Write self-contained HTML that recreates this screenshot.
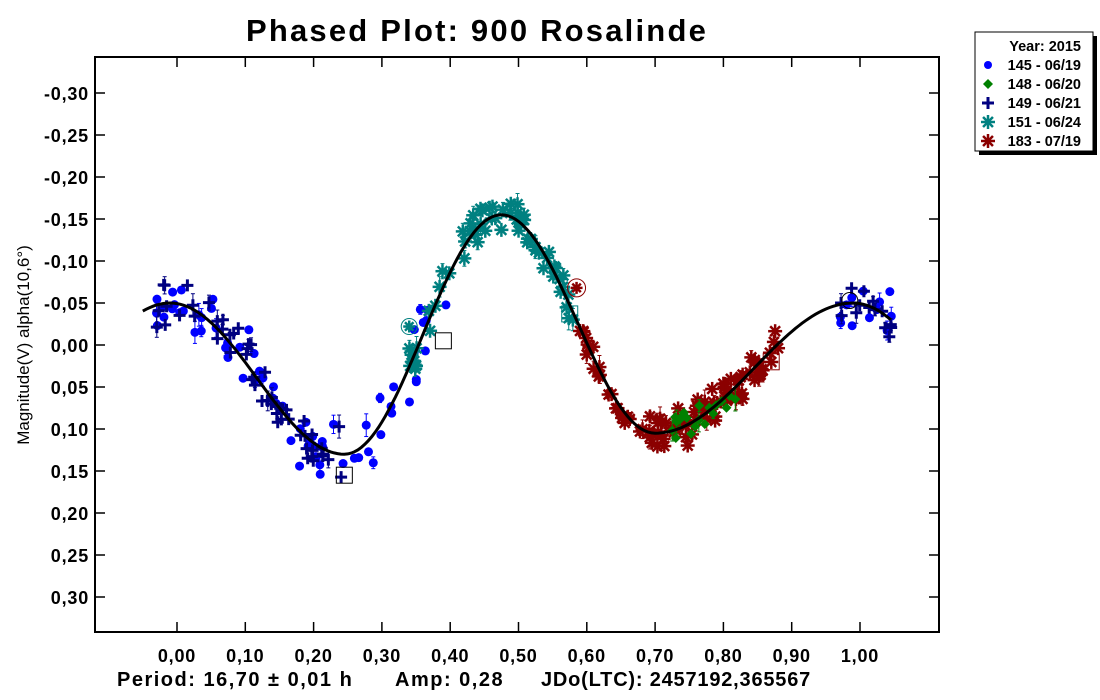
<!DOCTYPE html>
<html><head><meta charset="utf-8">
<style>
body{margin:0;background:#fff;}
svg{display:block;font-family:"Liberation Sans",Arial,sans-serif;font-weight:bold;}
</style></head>
<body>
<svg id="s" width="1100" height="700" xmlns="http://www.w3.org/2000/svg">
<rect width="1100" height="700" fill="#fff"/>
<text x="477" y="41" font-size="31" text-anchor="middle" letter-spacing="2.2">Phased Plot: 900 Rosalinde</text>
<rect x="95" y="57" width="844" height="575" fill="none" stroke="#000" stroke-width="2"/>
<g id="ax" font-size="18" letter-spacing="0.8"></g>
<text transform="translate(29,345) rotate(-90)" font-size="17" text-anchor="middle" style="font-weight:normal">Magnitude(V) alpha(10,6°)</text>
<g font-size="20" letter-spacing="1.5">
<text x="117" y="686">Period: 16,70 ± 0,01 h</text>
<text x="395" y="686">Amp: 0,28</text>
<text x="541" y="686" letter-spacing="0.8">JDo(LTC): 2457192,365567</text>
</g>
<g id="pts"></g>
<path id="curve" fill="none" stroke="#000" stroke-width="3"/>
<g font-size="14.5">
<rect x="979" y="36" width="118" height="119" fill="#000"/>
<rect x="975" y="32" width="118" height="119" fill="#fff" stroke="#000"/>
<text x="1081" y="51" text-anchor="end">Year: 2015</text>
<circle cx="988" cy="65" r="4" fill="#0000ff"/><text x="1081" y="70" text-anchor="end">145 - 06/19</text>
<path d="M988 79 l5 5 -5 5 -5 -5z" fill="#008000"/><text x="1081" y="89" text-anchor="end">148 - 06/20</text>
<path d="M988 97v12M982 103h12" stroke="#000080" stroke-width="3"/><text x="1081" y="108" text-anchor="end">149 - 06/21</text>
<g id="lg1"></g><text x="1081" y="127" text-anchor="end">151 - 06/24</text>
<g id="lg2"></g><text x="1081" y="146" text-anchor="end">183 - 07/19</text>
</g>
</svg>
<script>
const NS="http://www.w3.org/2000/svg";
function el(p,t,a){const e=document.createElementNS(NS,t);for(const k in a)e.setAttribute(k,a[k]);p.appendChild(e);return e;}
const X=p=>177+p*683, Y=m=>345+m*840;
const ax=document.getElementById('ax');
const fmt=v=>(v<0?'-':'')+Math.abs(v).toFixed(2).replace('.',',');
for(let i=-6;i<=6;i++){const m=i*0.05;const y=Y(m);
 el(ax,'line',{x1:95,x2:105,y1:y,y2:y,stroke:'#000','stroke-width':1.5});
 el(ax,'line',{x1:929,x2:939,y1:y,y2:y,stroke:'#000','stroke-width':1.5});
 el(ax,'text',{x:89,y:y+7,'text-anchor':'end'}).textContent=fmt(m);}
for(let i=0;i<=10;i++){const x=X(i/10);
 el(ax,'line',{x1:x,x2:x,y1:622,y2:632,stroke:'#000','stroke-width':1.5});
 el(ax,'line',{x1:x,x2:x,y1:57,y2:67,stroke:'#000','stroke-width':1.5});
 el(ax,'text',{x:x,y:662,'text-anchor':'middle'}).textContent=fmt(i/10);}
const E=[[-0.26,0.105],[-0.01,-0.05],[0.245,0.13],[0.475,-0.155],[0.70,0.105],[0.99,-0.05],[1.245,0.13]];
function f(p){for(let i=0;i<E.length-1;i++){const[a,ma]=E[i],[b,mb]=E[i+1];if(p>=a&&p<=b){const t=(p-a)/(b-a);return ma+(mb-ma)*(1-Math.cos(Math.PI*t))/2;}}return 0;}
let d='';for(let p=-0.05;p<=1.045;p+=0.005)d+=(d?'L':'M')+X(p).toFixed(1)+' '+Y(f(p)).toFixed(1);
document.getElementById('curve').setAttribute('d',d);
let seed=7;const r=()=>{seed=(seed*16807)%2147483647;return seed/2147483647;};
const g=document.getElementById('pts');
function star(p,x,y,c,s){for(let k=0;k<4;k++){const a=k*Math.PI/4;el(p,'line',{x1:x-s*Math.cos(a),y1:y-s*Math.sin(a),x2:x+s*Math.cos(a),y2:y+s*Math.sin(a),stroke:c,'stroke-width':2.5});}}
function mark(type,x,y){
 if(r()<0.3){const e=4+r()*8;const c={c:'#0000ff',d:'#008000',p:'#000080',t:'#008080',r:'#8b0000'}[type];el(g,'line',{x1:x,x2:x,y1:y-e,y2:y+e,stroke:c,'stroke-width':1});el(g,'line',{x1:x-2,x2:x+2,y1:y-e,y2:y-e,stroke:c});el(g,'line',{x1:x-2,x2:x+2,y1:y+e,y2:y+e,stroke:c});}
 if(type=='c')el(g,'circle',{cx:x,cy:y,r:4.5,fill:'#0000ff'});
 else if(type=='d')el(g,'path',{d:`M${x} ${y-5}l5 5-5 5-5-5z`,fill:'#008000'});
 else if(type=='p')el(g,'path',{d:`M${x} ${y-6}v12M${x-6} ${y}h12`,stroke:'#000080','stroke-width':3});
 else if(type=='t')star(g,x,y,'#008080',7);
 else star(g,x,y,'#8b0000',7);}
function series(type,a,b,n,sc){for(let i=0;i<n;i++){const p=a+(b-a)*r();const m=f(p)+(r()+r()-1)*sc*1.5;mark(type,X(p),Y(m));}}
series('c',-0.03,0.40,70,0.03);series('c',0.97,1.05,12,0.025);
series('p',-0.03,0.25,55,0.025);series('p',0.97,1.05,14,0.02);
series('t',0.34,0.58,65,0.018);
series('r',0.59,0.88,100,0.018);
series('d',0.72,0.82,20,0.012);
el(g,'rect',{x:X(0.245)-8,y:Y(0.155)-8,width:16,height:16,fill:'none',stroke:'#000'});
el(g,'rect',{x:X(0.39)-8,y:Y(-0.005)-8,width:16,height:16,fill:'none',stroke:'#000'});
el(g,'rect',{x:X(0.575)-8,y:Y(-0.037)-8,width:16,height:16,fill:'none',stroke:'#008080'});
el(g,'circle',{cx:X(0.34),cy:Y(-0.022),r:8,fill:'none',stroke:'#008080'});star(g,X(0.34),Y(-0.022),'#008080',6);
el(g,'circle',{cx:X(0.585),cy:Y(-0.068),r:9,fill:'none',stroke:'#8b0000'});star(g,X(0.585),Y(-0.068),'#8b0000',6);
el(g,'circle',{cx:X(0.985),cy:Y(-0.053),r:8,fill:'none',stroke:'#000'});
el(g,'rect',{x:X(0.87)-8,y:Y(0.02)-8,width:16,height:16,fill:'none',stroke:'#8b0000'});
star(document.getElementById('lg1'),988,122,'#008080',7);
star(document.getElementById('lg2'),988,141,'#8b0000',7);
</script>
</body></html>
